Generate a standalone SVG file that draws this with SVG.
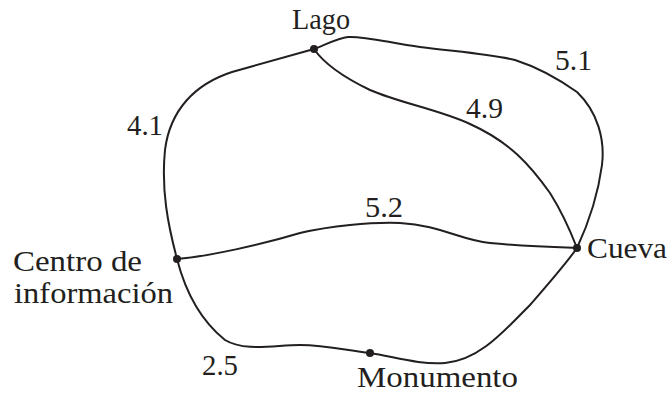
<svg xmlns="http://www.w3.org/2000/svg" width="670" height="393" viewBox="0 0 670 393">
<style>
.e{fill:none;stroke:#231f20;stroke-width:2;stroke-linejoin:round;stroke-linecap:round}
.d{fill:#231f20}
.t{font-family:'Liberation Serif','Times New Roman',serif;font-size:30px;fill:#231f20}
</style>
<rect width="670" height="393" fill="#fff"/>
<g id="connectors">
<path class="e" d="M314,49 C325,45 338,38 348,37 C365,36 390,43 420,47 C460,52 490,54 515,60 C540,68 560,80 577,92 C598,112 605,140 602,165 C598,195 590,220 577,248"/>
<path class="e" d="M314,49 C325,65 345,78 370,90 C400,103 440,110 470,124 C510,142 530,165 550,193 C562,212 570,230 577,248"/>
<path class="e" d="M314,49 C290,56 260,64 232,72 C195,84 170,110 165,150 C161,190 168,225 177,259"/>
<path class="e" d="M177,259 C210,256 260,245 300,233 C330,226 370,222 400,223 C440,225 460,240 490,243 C520,246 550,247 577,248"/>
<path class="e" d="M177,259 C185,290 200,320 225,340 C245,352 275,345 300,345 C325,345 345,350 370,353 C395,357 420,365 445,363 C480,360 505,330 530,305 C550,282 565,265 577,248"/>
<g class="t">
<text x="127" y="135" textLength="36" lengthAdjust="spacingAndGlyphs">4.1</text>
<text x="555" y="70" textLength="37" lengthAdjust="spacingAndGlyphs">5.1</text>
<text x="466" y="118" textLength="37" lengthAdjust="spacingAndGlyphs">4.9</text>
<text x="365" y="217" textLength="38" lengthAdjust="spacingAndGlyphs">5.2</text>
<text x="202" y="375" textLength="36" lengthAdjust="spacingAndGlyphs">2.5</text>
</g>
</g>
<g id="lago" class="t"><circle class="d" cx="314" cy="49" r="4"/><text x="292" y="29" textLength="58" lengthAdjust="spacingAndGlyphs">Lago</text></g>
<g id="cueva" class="t"><circle class="d" cx="577" cy="248" r="4"/><text x="587" y="258" textLength="80" lengthAdjust="spacingAndGlyphs">Cueva</text></g>
<g id="centro" class="t"><circle class="d" cx="177" cy="259" r="4"/><text x="13" y="271" textLength="129" lengthAdjust="spacingAndGlyphs">Centro de</text><text x="14" y="303" textLength="159" lengthAdjust="spacingAndGlyphs">información</text></g>
<g id="monumento" class="t"><circle class="d" cx="370" cy="353" r="4"/><text x="357" y="387" textLength="161" lengthAdjust="spacingAndGlyphs">Monumento</text></g>
</svg>
